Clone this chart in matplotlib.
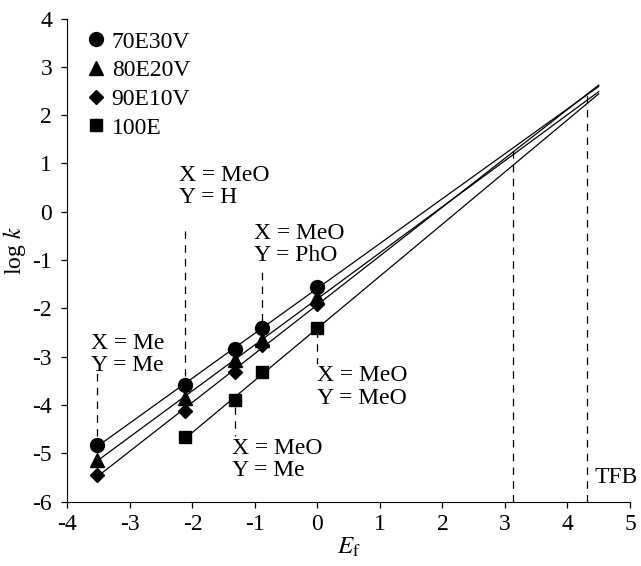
import numpy as np
import matplotlib
matplotlib.use("Agg")
import matplotlib.pyplot as plt

plt.rcParams['font.family'] = ['Liberation Serif', 'DejaVu Serif']
plt.rcParams['mathtext.fontset'] = 'stix'
plt.rcParams['font.size'] = 17
plt.rcParams['axes.unicode_minus'] = False

# data
ef = [-3.53, -2.12, -1.32, -0.88, 0.0]
ef_100e = [-2.12, -1.32, -0.88, 0.0]
logk_70e30v = [-4.83, -3.59, -2.83, -2.41, -1.55]
logk_80e20v = [-5.13, -3.85, -3.07, -2.66, -1.76]
logk_90e10v = [-5.44, -4.13, -3.31, -2.76, -1.90]
logk_100e = [-4.67, -3.90, -3.31, -2.41]

series = [
    ("70E30V", ef, logk_70e30v, "o", 10),
    ("80E20V", ef, logk_80e20v, "^", 10),
    ("90E10V", ef, logk_90e10v, "D", 7),
    ("100E", ef_100e, logk_100e, "s", 8),
]

x_end = 4.5

# vertical dashed guides: (x, y from, y to)
guides = [
    (-3.53, -4.65, -3.31),
    (-2.12, -3.40, -0.28),
    (-0.88, -2.25, -1.25),
    (0.0, -2.45, -3.14),
    (-1.32, -4.05, -4.63),
    (3.13, -6.0, 1.36),
    (4.32, -6.0, 2.48),
]

# substituent labels: (x left, y centre, text)
labels = [
    (-3.63, -2.95, "X = Me\nY = Me"),
    (-2.21, 0.52, "X = MeO\nY = H"),
    (-1.01, -0.68, "X = MeO\nY = PhO"),
    (-0.01, -3.62, "X = MeO\nY = MeO"),
    (-1.36, -5.13, "X = MeO\nY = Me"),
    (4.44, -5.5, "TFB"),
]

fig = plt.figure(figsize=(6.41, 5.66), dpi=100)
ax = fig.add_axes([0.1053, 0.1136, 0.8775, 0.8537])

for name, x, y, m, ms in series:
    coef = np.polyfit(x, y, 1)
    xl = np.array([min(x), x_end])
    ax.plot(xl, np.polyval(coef, xl), color='black', lw=0.9)
    ax.plot(x, y, m, color='black', ms=ms, label=name, linestyle='none')

for gx, y0, y1 in guides:
    ax.plot([gx, gx], [y0, y1], color='black', lw=0.9, dashes=(6, 5))

for lx, ly, s in labels:
    ax.text(lx, ly, s, fontsize=17, ha='left', va='center', linespacing=1.1)

ax.set_xlim(-4, 5)
ax.set_ylim(-6, 4)
ax.set_xticks(range(-4, 6))
ax.set_yticks(range(-6, 5))
ax.spines['top'].set_visible(False)
ax.spines['right'].set_visible(False)
ax.tick_params(direction='out', length=4, width=0.9)
ax.tick_params(axis='y', pad=7)
ax.tick_params(axis='x', pad=5)
ax.set_xlabel(r"$E_\mathrm{f}$", fontsize=18, labelpad=0)
ax.set_ylabel(r"log $k$", fontsize=17)
ax.yaxis.set_label_coords(-0.07, 0.52)

ax.legend(loc='upper left', bbox_to_anchor=(0.005, 1.008), frameon=False,
          handlelength=0.8, handletextpad=0.25, labelspacing=0.3,
          borderaxespad=0.3, fontsize=17)

fig.savefig("out.png", dpi=100)
